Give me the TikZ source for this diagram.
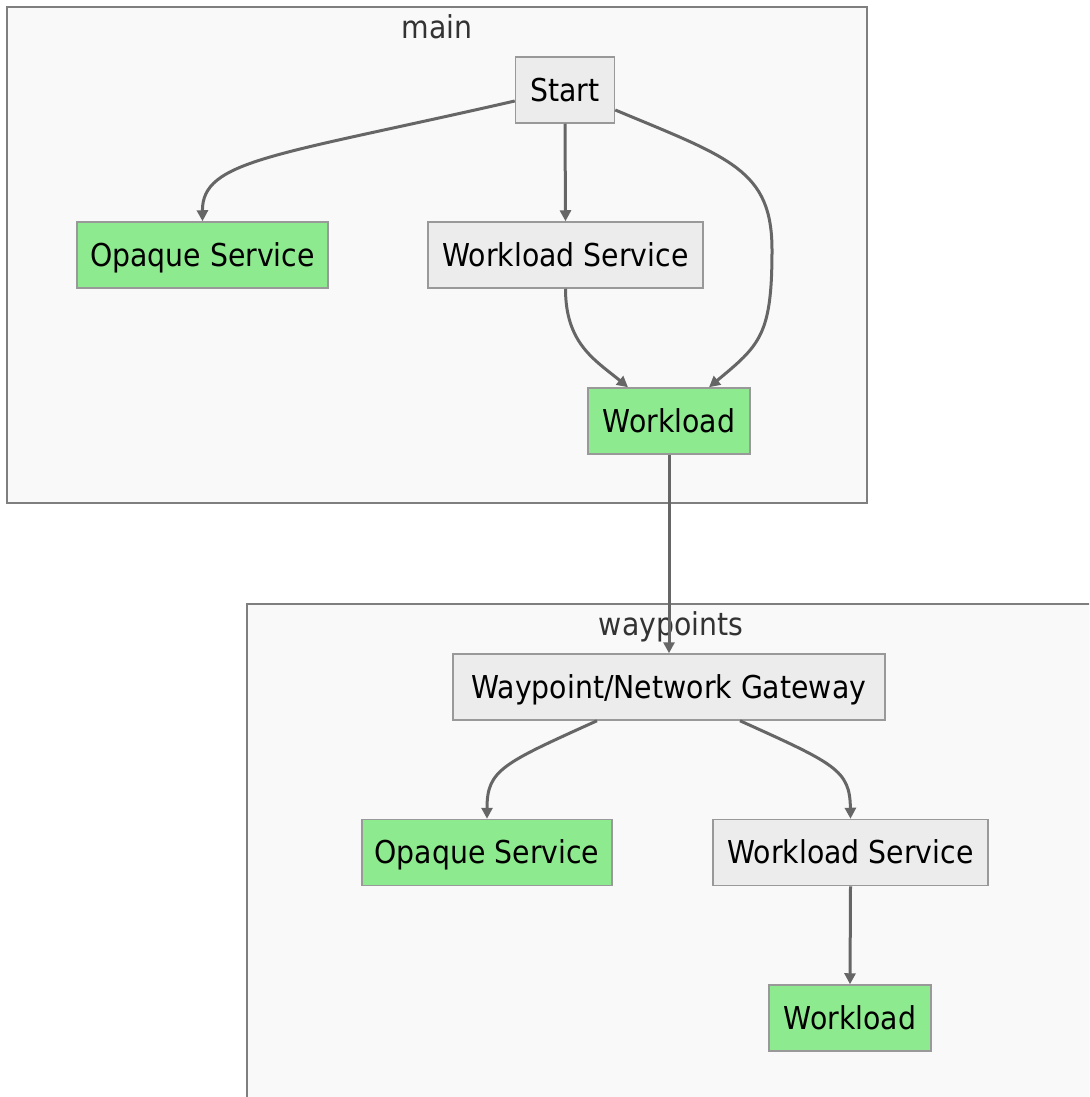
\documentclass[tikz,border=0pt]{standalone}
\usepackage{fontspec}
\setmainfont{DejaVu Sans Condensed}
\usetikzlibrary{arrows.meta}
\definecolor{clfill}{HTML}{F9F9F9}
\definecolor{clline}{HTML}{7F7F7F}
\definecolor{nodegray}{HTML}{ECECEC}
\definecolor{nodeline}{HTML}{999999}
\definecolor{nodegreen}{HTML}{8EEA8E}
\definecolor{edgecol}{HTML}{666666}
\definecolor{titlecol}{HTML}{333333}
\tikzset{
  box/.style={draw=nodeline, line width=1.5pt, fill=nodegray, minimum height=66pt, inner xsep=0pt, inner ysep=0pt, text height=28pt, text depth=5.5pt, font=\fontsize{31.5}{38}\selectfont, text=black},
  greenbox/.style={box, fill=nodegreen},
  cluster/.style={draw=clline, line width=1.5pt, fill=clfill},
  ctitle/.style={font=\fontsize{31.5}{38}\selectfont, text=titlecol, text height=28pt, text depth=5.5pt, inner sep=0pt},
  edge/.style={draw=edgecol, line width=3pt, -{Triangle[length=11pt,width=11pt]}},
}
\begin{document}
\begin{tikzpicture}[x=1pt,y=-1pt]
\clip (0,0) rectangle (1089,1097);
\useasboundingbox (0,0) rectangle (1089,1097);
\fill[white] (0,0) rectangle (1089,1097);
% clusters
\draw[cluster] (7,7) rectangle (867,503);
\node[ctitle] (tmain) at (437,27) {main};
\draw[cluster] (247,604) rectangle (1110,1120);
\node[ctitle] (twp) at (671,624) {waypoints};
% nodes
\node[box, minimum width=99pt] (start) at (565,90) {Start};
\node[greenbox, minimum width=251pt] (opq) at (202.5,255) {Opaque Service};
\node[box, minimum width=275pt] (ws) at (565.5,255) {Workload Service};
\node[greenbox, minimum width=162pt] (wl) at (669,421) {Workload};
\node[box, minimum width=432pt] (gw) at (669,687) {Waypoint/Network Gateway};
\node[greenbox, minimum width=250pt] (opq2) at (487,852.5) {Opaque Service};
\node[box, minimum width=275pt] (ws2) at (850.5,852.5) {Workload Service};
\node[greenbox, minimum width=162pt] (wl2) at (850,1018) {Workload};
% edges
\draw[edge] ([yshift=-11pt]start.west) .. controls +(-240,55) and (202,160) .. (opq.north);
\draw[edge] (start.south) -- (ws.north);
\draw[edge] ([yshift=-20pt]start.east) .. controls +(115,48) and (772,170) .. (772,250)
  .. controls (772,335) and (760,345) .. ([xshift=40pt]wl.north);
\draw[edge] (ws.south) .. controls +(0,55) and (595,360) .. ([xshift=-41pt]wl.north);
\draw[edge] (wl.south) -- (gw.north);
\draw[edge] ([xshift=-72pt]gw.south) .. controls +(-95,43) and (487,770) .. (opq2.north);
\draw[edge] ([xshift=71pt]gw.south) .. controls +(95,43) and (850,770) .. (ws2.north);
\draw[edge] (ws2.south) -- (wl2.north);
\end{tikzpicture}
\end{document}
